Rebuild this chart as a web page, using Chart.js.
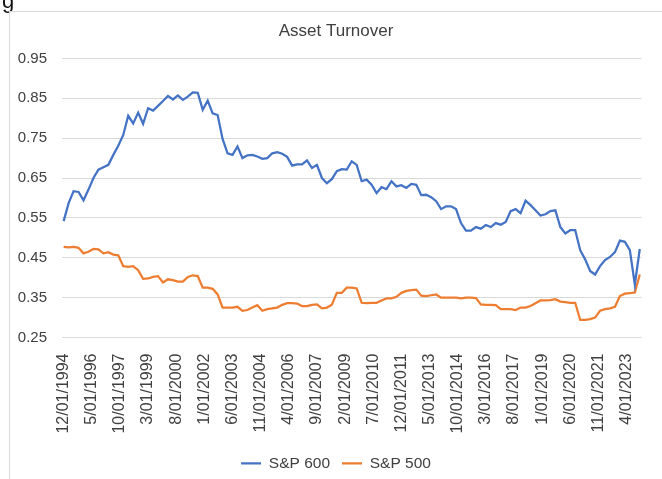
<!DOCTYPE html>
<html>
<head>
<meta charset="utf-8">
<title>Asset Turnover</title>
<script src="https://cdn.jsdelivr.net/npm/chart.js@4/dist/chart.umd.min.js"></script>
<style>
  body { margin: 0; background: #fff; }
  #wrap { position: relative; width: 662px; height: 479px; overflow: hidden; }
  #frame { position: absolute; left: 9px; top: 11px; width: 660px; height: 480px;
           border: 1px solid #d9d9d9; pointer-events: none; }
  #frag { position: absolute; left: 2px; top: -12px; font: 22px "Liberation Sans", sans-serif; color: #111; }
</style>
</head>
<body>
<div id="wrap">
  <div id="frag">g</div>
  <div id="frame"></div>
  <canvas id="turnoverChart" width="662" height="479"></canvas>
</div>
<script>
// quarterly observations, first one at 12/01/1994
const startDate = "12/01/1994";
const stepMonths = 3;

const sp600 = [
  0.542, 0.587, 0.617, 0.615, 0.594, 0.621, 0.650, 0.671, 0.677, 0.683,
  0.708, 0.731, 0.758, 0.806, 0.787, 0.814, 0.786, 0.825, 0.819, 0.831,
  0.843, 0.856, 0.847, 0.857, 0.846, 0.854, 0.865, 0.864, 0.821, 0.844,
  0.812, 0.808, 0.748, 0.712, 0.708, 0.729, 0.700, 0.707, 0.708, 0.704,
  0.698, 0.700, 0.712, 0.715, 0.711, 0.703, 0.681, 0.684, 0.684, 0.694,
  0.675, 0.683, 0.650, 0.637, 0.647, 0.667, 0.672, 0.671, 0.692, 0.683,
  0.642, 0.646, 0.633, 0.612, 0.627, 0.622, 0.642, 0.629, 0.632, 0.625,
  0.635, 0.633, 0.607, 0.608, 0.602, 0.592, 0.572, 0.579, 0.579, 0.572,
  0.537, 0.518, 0.518, 0.527, 0.523, 0.532, 0.527, 0.537, 0.533, 0.540,
  0.567, 0.572, 0.562, 0.593, 0.582, 0.569, 0.556, 0.559, 0.567, 0.569,
  0.527, 0.511, 0.519, 0.519, 0.469, 0.446, 0.417, 0.408, 0.429, 0.444,
  0.452, 0.464, 0.493, 0.490, 0.469, 0.383, 0.472
];

const sp500 = [
  0.477, 0.476, 0.477, 0.475, 0.461, 0.465, 0.472, 0.471, 0.461, 0.464,
  0.458, 0.456, 0.429, 0.427, 0.429, 0.419, 0.397, 0.398, 0.402, 0.404,
  0.388, 0.396, 0.394, 0.390, 0.390, 0.402, 0.406, 0.404, 0.375, 0.375,
  0.372, 0.358, 0.325, 0.325, 0.325, 0.327, 0.317, 0.319, 0.325, 0.331,
  0.317, 0.321, 0.323, 0.325, 0.332, 0.336, 0.336, 0.335, 0.329, 0.329,
  0.332, 0.333, 0.323, 0.325, 0.332, 0.362, 0.362, 0.375, 0.375, 0.373,
  0.337, 0.336, 0.337, 0.337, 0.343, 0.348, 0.348, 0.352, 0.362, 0.367,
  0.369, 0.370, 0.355, 0.354, 0.356, 0.358, 0.350, 0.350, 0.350, 0.350,
  0.348, 0.350, 0.350, 0.349, 0.333, 0.332, 0.332, 0.331, 0.321, 0.321,
  0.321, 0.319, 0.325, 0.325, 0.329, 0.336, 0.343, 0.343, 0.344, 0.346,
  0.340, 0.339, 0.337, 0.337, 0.294, 0.294, 0.296, 0.300, 0.317, 0.321,
  0.323, 0.327, 0.354, 0.360, 0.361, 0.363, 0.408
];

const tickLabels = [
  "12/01/1994", "5/01/1996", "10/01/1997", "3/01/1999", "8/01/2000",
  "1/01/2002", "6/01/2003", "11/01/2004", "4/01/2006", "9/01/2007",
  "2/01/2009", "7/01/2010", "12/01/2011", "5/01/2013", "10/01/2014",
  "3/01/2016", "8/01/2017", "1/01/2019", "6/01/2020", "11/01/2021",
  "4/01/2023"
];

const yTicks = [0.25, 0.35, 0.45, 0.55, 0.65, 0.75, 0.85, 0.95];

// months since start date
const monthIndex = (s) => {
  const p = s.split("/");
  const q = startDate.split("/");
  return (parseInt(p[2]) - parseInt(q[2])) * 12 + (parseInt(p[0]) - parseInt(q[0]));
};
const tickMonths = tickLabels.map(monthIndex);
const toPoints = (arr) => arr.map((v, i) => ({ x: i * stepMonths, y: v }));

const textColor = "#404040";
const fontFamily = "'Liberation Sans', Arial, sans-serif";

// the excel frame centres title and legend on the whole chart box, nudge them right
const centreShift = {
  id: "centreShift",
  afterLayout: (chart) => {
    [chart.titleBlock, chart.legend].forEach((box) => {
      if (!box) return;
      box.left += 10;
      box.right += 10;
      if (box.legendHitBoxes) box.legendHitBoxes.forEach((h) => (h.left += 10));
    });
  },
};

const ctx = document.getElementById("turnoverChart").getContext("2d");
const myChart = new Chart(ctx, {
  type: "line",
  data: {
    datasets: [
      {
        label: "S&P 600",
        data: toPoints(sp600),
        borderColor: "#4472C4",
        backgroundColor: "#4472C4",
        borderWidth: 2.25,
        pointRadius: 0,
        tension: 0,
      },
      {
        label: "S&P 500",
        data: toPoints(sp500),
        borderColor: "#ED7D31",
        backgroundColor: "#ED7D31",
        borderWidth: 2.25,
        pointRadius: 0,
        tension: 0,
      },
    ],
  },
  options: {
    responsive: false,
    animation: false,
    layout: { padding: { top: 12, left: 0, right: 10, bottom: -2 } },
    plugins: {
      title: {
        display: true,
        text: "Asset Turnover",
        color: textColor,
        font: { family: fontFamily, size: 17, weight: "normal" },
        padding: { top: 9, bottom: 17 },
      },
      legend: {
        position: "bottom",
        labels: {
          color: textColor,
          font: { family: fontFamily, size: 15.5 },
          usePointStyle: true,
          pointStyle: "line",
          pointStyleWidth: 20,
          boxHeight: 15,
          padding: 12,
        },
      },
      tooltip: { enabled: false },
    },
    scales: {
      x: {
        type: "linear",
        min: -1,
        max: 349,
        afterBuildTicks: (scale) => {
          scale.ticks = tickMonths.map((m) => ({ value: m }));
        },
        afterFit: (scale) => {
          scale.height = 106;
        },
        ticks: {
          autoSkip: false,
          maxRotation: 90,
          minRotation: 90,
          padding: 16,
          color: textColor,
          font: { family: fontFamily, size: 16 },
          callback: (value) => tickLabels[tickMonths.indexOf(value)],
        },
        grid: { display: false, drawTicks: false },
        border: { display: false },
      },
      y: {
        min: 0.25,
        max: 0.95,
        afterBuildTicks: (scale) => {
          scale.ticks = yTicks.map((v) => ({ value: v }));
        },
        afterFit: (scale) => {
          scale.width = 62;
        },
        ticks: {
          padding: 15,
          color: textColor,
          font: { family: fontFamily, size: 15 },
          callback: (value) => value.toFixed(2),
        },
        grid: { color: "#d9d9d9", lineWidth: 1, drawTicks: false },
        border: { display: false },
      },
    },
  },
  plugins: [centreShift],
});
</script>
</body>
</html>
